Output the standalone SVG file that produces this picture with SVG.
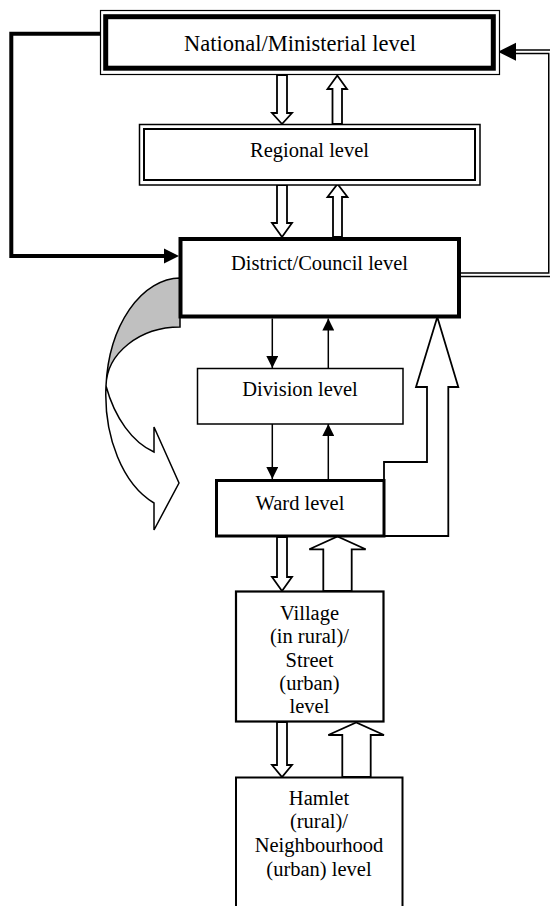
<svg xmlns="http://www.w3.org/2000/svg" width="550" height="906" viewBox="0 0 550 906">
<defs>
<style>
text{font-family:"Liberation Serif","Times New Roman",serif;font-size:20.5px;fill:#000;text-anchor:middle}
.big{font-size:22.5px}
.box{fill:#fff;stroke:#000}
.hollow{fill:#fff;stroke:#000;stroke-width:1.8;stroke-linejoin:miter}
.thin{fill:none;stroke:#000;stroke-width:1.5}
</style>
<marker id="ah" viewBox="0 0 12 12" refX="12" refY="6" markerWidth="12" markerHeight="12" markerUnits="userSpaceOnUse" orient="auto">
<path d="M0,0 L12,6 L0,12 Z" fill="#000"/>
</marker>
</defs>
<rect width="550" height="906" fill="#fff"/>

<g id="curved-arrow">
<path d="M 180 278 A 75 116 0 0 0 106 386 A 74 60 0 0 1 180 327 Z" fill="#c0c0c0" stroke="#000" stroke-width="1.5"/>
<path d="M 106 386 A 75 116 0 0 0 154 503 L 154 530 L 179 483 L 154 427 L 154 452 A 75 116 0 0 1 106 386 Z" fill="#fff" stroke="#000" stroke-width="1.5"/>
</g>

<g id="connectors">
<!-- left thick loop National -> District -->
<path d="M 100 33.7 H 11.3 V 256 H 165" fill="none" stroke="#000" stroke-width="4"/>
<polygon points="179,256 164,248.5 164,263.5" fill="#000"/>
<!-- right double loop District -> National -->
<path d="M 461 274.7 H 550.5 V 51.7 H 515" fill="none" stroke="#000" stroke-width="5"/>
<path d="M 461 274.7 H 550.5 V 51.7 H 515" fill="none" stroke="#fff" stroke-width="2"/>
<polygon points="498,51.7 516,42.7 516,60.7" fill="#000"/>
<!-- National <-> Regional -->
<polygon class="hollow" points="277,75 287,75 287,113 292,113 282,124 272,113 277,113"/>
<polygon class="hollow" points="332.5,124 342,124 342,89 347,89 337.3,75.5 327.5,89 332.5,89"/>
<!-- Regional <-> District -->
<polygon class="hollow" points="277,185 287,185 287,223 292,223 282,237 272,223 277,223"/>
<polygon class="hollow" points="333,237 342,237 342,197 347.5,197 337.5,184 327.5,197 333,197"/>
<!-- District <-> Division -->
<line class="thin" x1="272.3" y1="318.5" x2="272.3" y2="368" marker-end="url(#ah)"/>
<line class="thin" x1="328.3" y1="368" x2="328.3" y2="318.5" marker-end="url(#ah)"/>
<!-- Division <-> Ward -->
<line class="thin" x1="272.3" y1="424" x2="272.3" y2="479" marker-end="url(#ah)"/>
<line class="thin" x1="328.3" y1="479" x2="328.3" y2="424" marker-end="url(#ah)"/>
<!-- Ward -> District big hollow arrow -->
<polygon class="hollow" points="384,462 427,462 427,387 416,387 437.3,317 458.3,387 448.3,387 448.3,536 384,536"/>
<!-- Ward <-> Village -->
<polygon class="hollow" points="277,537 287,537 287,577 292,577 282,591 272,577 277,577"/>
<polygon class="hollow" points="323.3,591 351.7,591 351.7,549.3 365.7,549.3 337.5,536.5 309.3,549.3 323.3,549.3"/>
<!-- Village <-> Hamlet -->
<polygon class="hollow" points="277,722 287,722 287,765 292,765 282,777 272,765 277,765"/>
<polygon class="hollow" points="342.3,777 370.7,777 370.7,735 384,735 356.2,722.5 328.3,735 342.3,735"/>
</g>

<g id="national">
<rect x="100.5" y="10.5" width="399" height="64" fill="#fff" stroke="#000" stroke-width="1.2"/>
<rect x="105.7" y="16.7" width="387.6" height="51.5" fill="#fff" stroke="#000" stroke-width="5"/>
<text class="big" x="300" y="51">National/Ministerial level</text>
</g>

<g id="regional">
<rect x="139.5" y="124.5" width="340.5" height="60.5" fill="#fff" stroke="#000" stroke-width="1.5"/>
<rect x="144" y="129" width="331" height="51" fill="none" stroke="#000" stroke-width="2"/>
<text x="309.5" y="157">Regional level</text>
</g>

<g id="district">
<rect class="box" x="180.5" y="239" width="278.5" height="77.5" stroke-width="4"/>
<text x="319.5" y="270">District/Council level</text>
</g>

<g id="division">
<rect class="box" x="197.5" y="368.5" width="205.5" height="55.5" stroke-width="1.5"/>
<text x="300" y="396">Division level</text>
</g>

<g id="ward">
<rect class="box" x="216.5" y="480.5" width="167.5" height="55.5" stroke-width="3"/>
<text x="300" y="510">Ward level</text>
</g>

<g id="village">
<rect class="box" x="236" y="591.5" width="147.5" height="130" stroke-width="2.2"/>
<text x="309.5" y="620">Village</text>
<text x="309.5" y="643">(in rural)/</text>
<text x="309.5" y="667">Street</text>
<text x="309.5" y="690">(urban)</text>
<text x="309.5" y="713">level</text>
</g>

<g id="hamlet">
<path d="M 236 907 V 777.5 H 402.5 V 907" fill="#fff" stroke="#000" stroke-width="2"/>
<text x="319" y="805">Hamlet</text>
<text x="319" y="828">(rural)/</text>
<text x="319" y="852">Neighbourhood</text>
<text x="319" y="876">(urban) level</text>
</g>
</svg>
